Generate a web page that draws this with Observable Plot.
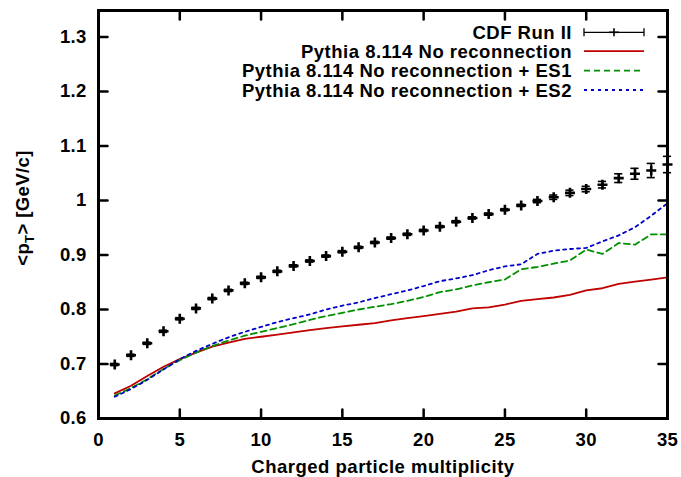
<!DOCTYPE html>
<html><head><meta charset="utf-8">
<script src="https://cdn.jsdelivr.net/npm/d3@7"></script>
<script src="https://cdn.jsdelivr.net/npm/@observablehq/plot@0.6"></script>
<style>body{margin:0;background:#fff;} svg{display:block;}</style>
</head><body><div id="chart"></div>
<script>
const mult = [1,2,3,4,5,6,7,8,9,10,11,12,13,14,15,16,17,18,19,20,21,22,23,24,25,26,27,28,29,30,31,32,33,34,35];
const cdfMean = [0.699,0.716,0.738,0.760,0.783,0.802,0.820,0.835,0.848,0.859,0.870,0.880,0.889,0.898,0.906,0.914,0.923,0.931,0.938,0.945,0.952,0.961,0.968,0.975,0.983,0.991,0.999,1.006,1.014,1.021,1.029,1.041,1.049,1.055,1.066];
const cdfErr = [0.002,0.002,0.002,0.002,0.002,0.002,0.002,0.002,0.002,0.002,0.002,0.002,0.002,0.002,0.002,0.002,0.002,0.002,0.002,0.002,0.002,0.002,0.002,0.002,0.002,0.002,0.003,0.004,0.005,0.005,0.006,0.008,0.010,0.013,0.015];
const noReco = [0.646,0.660,0.678,0.695,0.709,0.721,0.732,0.739,0.746,0.750,0.754,0.758,0.762,0.766,0.769,0.772,0.775,0.780,0.784,0.788,0.792,0.796,0.802,0.804,0.809,0.816,0.819,0.822,0.827,0.835,0.839,0.847,0.851,0.855,0.859];
const noRecoES1 = [0.642,0.656,0.672,0.691,0.707,0.721,0.733,0.743,0.752,0.759,0.766,0.773,0.781,0.788,0.794,0.800,0.805,0.810,0.816,0.823,0.832,0.837,0.844,0.850,0.855,0.874,0.878,0.884,0.890,0.910,0.902,0.922,0.919,0.938,0.938];
const noRecoES2 = [0.640,0.654,0.671,0.690,0.709,0.724,0.737,0.749,0.759,0.768,0.777,0.784,0.791,0.800,0.807,0.813,0.821,0.828,0.835,0.843,0.852,0.857,0.863,0.872,0.879,0.883,0.902,0.908,0.911,0.913,0.925,0.936,0.951,0.972,0.995];
const xTicks = [0,5,10,15,20,25,30,35];
const yTicks = [0.6,0.7,0.8,0.9,1.0,1.1,1.2,1.3];
const legendLabels = ["CDF Run II","Pythia 8.114 No reconnection","Pythia 8.114 No reconnection + ES1","Pythia 8.114 No reconnection + ES2"];
const seriesColors = ["#000000","#c00000","#009000","#0000c8"];
const seriesDash = [null,null,"6,4","3,4"];

const cdf = mult.map((m,i)=>({x:m, y:cdfMean[i], e:cdfErr[i]}));
const curves = [noReco, noRecoES1, noRecoES2];
const lineRows = [];
curves.forEach((arr,k)=>arr.forEach((v,i)=>lineRows.push({x:mult[i], y:v, s:k+1})));

const plusSymbol = {draw(ctx, size){const r=Math.sqrt(size/Math.PI); ctx.moveTo(-r,0); ctx.lineTo(r,0); ctx.moveTo(0,-r); ctx.lineTo(0,r);}};
const tickShape = {draw(ctx, l){ctx.moveTo(0,0); ctx.lineTo(0,-l);}};
const tickOpts = {length:9, anchor:"start", shape:tickShape, stroke:"black", strokeWidth:2.5};

const marks = [];
curves.forEach((arr,k)=>{
  marks.push(Plot.line(lineRows.filter(d=>d.s===k+1), {x:"x", y:"y", stroke:seriesColors[k+1], strokeWidth:1.8, strokeDasharray:seriesDash[k+1]}));
});
marks.push(
  Plot.ruleX(cdf, {x:"x", y1:d=>d.y-d.e, y2:d=>d.y+d.e, stroke:"black", strokeWidth:1.6}),
  Plot.ruleY(cdf, {y:d=>d.y+d.e, x1:d=>d.x-0.25, x2:d=>d.x+0.25, stroke:"black", strokeWidth:1.6}),
  Plot.ruleY(cdf, {y:d=>d.y-d.e, x1:d=>d.x-0.25, x2:d=>d.x+0.25, stroke:"black", strokeWidth:1.6}),
  Plot.dot(cdf, {x:"x", y:"y", symbol:plusSymbol, r:5, stroke:"black", fill:"none", strokeWidth:2.6}),
  Plot.vector(xTicks, {x:d=>d, frameAnchor:"bottom", rotate:0, ...tickOpts}),
  Plot.vector(xTicks, {x:d=>d, frameAnchor:"top", rotate:180, ...tickOpts}),
  Plot.vector(yTicks, {y:d=>d, frameAnchor:"left", rotate:90, ...tickOpts}),
  Plot.vector(yTicks, {y:d=>d, frameAnchor:"right", rotate:-90, ...tickOpts}),
  Plot.axisX(xTicks, {tickSize:0, tickPadding:14, label:null, tickFormat:d=>String(d)}),
  Plot.axisY(yTicks, {tickSize:0, tickPadding:12, label:null, tickFormat:d=>String(+d.toFixed(1))}),
  Plot.frame({stroke:"black", strokeWidth:3})
);

const svgEl = Plot.plot({
  width:681, height:477,
  marginLeft:98, marginRight:14, marginTop:10, marginBottom:59,
  style:{fontFamily:"'Liberation Sans', Arial, sans-serif", fontSize:"18.5px", fontWeight:"bold", letterSpacing:"0.3px", background:"#fff", color:"black"},
  x:{domain:[0,35]},
  y:{domain:[0.6,1.3486]},
  marks
});
document.getElementById("chart").appendChild(svgEl);

const svg = d3.select(svgEl);
const fontFam = "'Liberation Sans', Arial, sans-serif";
// axis titles
svg.append("text").attr("x", 383).attr("y", 473).attr("text-anchor","middle")
  .attr("font-family", fontFam).attr("font-size", 18.5).attr("font-weight","bold").attr("letter-spacing","0.5px").attr("fill","black")
  .text("Charged particle multiplicity");
const yt = svg.append("text").attr("transform","translate(29,208) rotate(-90)").attr("text-anchor","middle")
  .attr("font-family", fontFam).attr("font-size", 18.5).attr("font-weight","bold").attr("letter-spacing","0.4px").attr("fill","black");
yt.append("tspan").text("<p");
yt.append("tspan").attr("font-size", 13).attr("dy", 5).text("T");
yt.append("tspan").attr("dy", -5).text("> [GeV/c]");

// legend
const lg = svg.append("g").attr("font-family", fontFam).attr("font-size", 18.5).attr("font-weight","bold").attr("letter-spacing","0.5px");
const rowY = [32.3, 51.2, 70.7, 90];
legendLabels.forEach((t,i)=>{
  const y = rowY[i];
  lg.append("text").attr("x", 572).attr("y", y+6.5).attr("text-anchor","end").attr("fill","black").text(t);
  if (i===0) {
    lg.append("line").attr("x1",584).attr("x2",644).attr("y1",y).attr("y2",y).attr("stroke","black").attr("stroke-width",1.3);
    lg.append("line").attr("x1",584).attr("x2",584).attr("y1",y-4).attr("y2",y+4).attr("stroke","black").attr("stroke-width",1.3);
    lg.append("line").attr("x1",644).attr("x2",644).attr("y1",y-4).attr("y2",y+4).attr("stroke","black").attr("stroke-width",1.3);
    lg.append("line").attr("x1",609).attr("x2",619).attr("y1",y).attr("y2",y).attr("stroke","black").attr("stroke-width",1.6);
    lg.append("line").attr("x1",614).attr("x2",614).attr("y1",y-4).attr("y2",y+4).attr("stroke","black").attr("stroke-width",1.6);
  } else {
    const l = lg.append("line").attr("x1",584).attr("x2",644).attr("y1",y).attr("y2",y)
      .attr("stroke",seriesColors[i]).attr("stroke-width",1.8);
    if (seriesDash[i]) l.attr("stroke-dasharray", seriesDash[i]);
  }
});
</script>
</body></html>
